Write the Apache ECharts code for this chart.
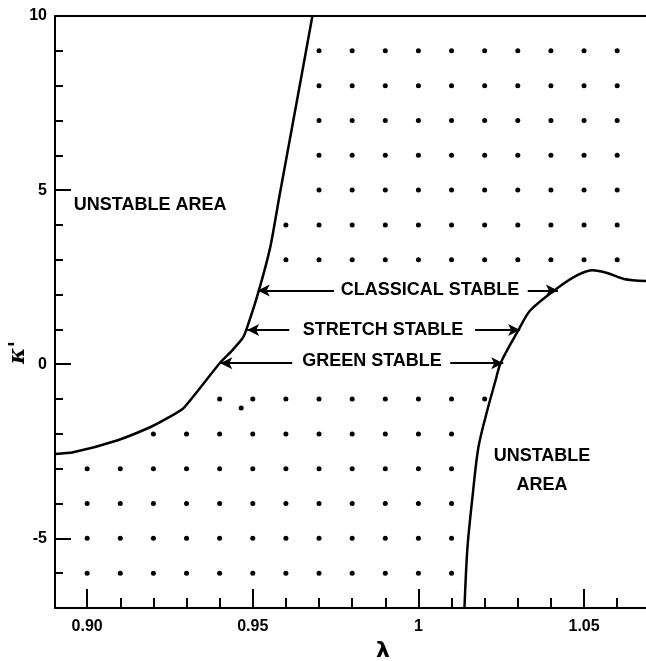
<!DOCTYPE html>
<html>
<head>
<meta charset="utf-8">
<script src="https://cdn.jsdelivr.net/npm/echarts@6/dist/echarts.min.js"></script>
<style>html,body{margin:0;padding:0;background:#fff;}#c{width:646px;height:661px;}</style>
</head>
<body>
<div id="c"></div>
<script>
// ---- data ----
const xMin = 0.8903, xMax = 1.0687, yMin = -7, yMax = 10;
const xMajorTicks = [0.90, 0.95, 1.00, 1.05];
const xTickLabels = ['0.90', '0.95', '1', '1.05'];
const xMinorTicks = [0.90,0.91,0.92,0.93,0.94,0.95,0.96,0.97,0.98,0.99,1.00,1.01,1.02,1.03,1.04,1.05,1.06];
const yMajorTicks = [-5, 0, 5, 10];
const yTickLabels = ['-5', '0', '5', '10'];
const yMinorTicks = [-6,-5,-4,-3,-2,-1,0,1,2,3,4,5,6,7,8,9];

// left stability boundary
const leftCurveX = [0.8903, 0.8958, 0.909, 0.919, 0.9242, 0.929, 0.940, 0.9438, 0.947, 0.9483, 0.9517, 0.9553, 0.958, 0.9634, 0.968];
const leftCurveY = [-2.58, -2.53, -2.19, -1.81, -1.55, -1.27, 0.03, 0.40, 0.76, 1.06, 2.07, 3.37, 4.8, 7.6, 10];
// right stability boundary
const rightCurveX = [1.0139, 1.0148, 1.0163, 1.0181, 1.0208, 1.0233, 1.0248, 1.0302, 1.0338, 1.042, 1.048, 1.0526, 1.057, 1.062, 1.0687];
const rightCurveY = [-7.0, -5.27, -3.83, -2.39, -1.32, -0.46, 0.03, 0.98, 1.55, 2.19, 2.56, 2.70, 2.62, 2.45, 2.39];

// dotted (stable) region: rows and their first/last dot column
const dotColumns = [0.90,0.91,0.92,0.93,0.94,0.95,0.96,0.97,0.98,0.99,1.00,1.01,1.02,1.03,1.04,1.05,1.06];
const dotRowY    = [9, 8, 7, 6, 5, 4, 3, -1, -2, -3, -4, -5, -6];
const dotRowFrom = [0.97,0.97,0.97,0.97,0.97,0.96,0.96,0.94,0.92,0.90,0.90,0.90,0.90];
const dotRowTo   = [1.06,1.06,1.06,1.06,1.06,1.06,1.06,1.02,1.01,1.01,1.01,1.01,1.01];
const strayDotX = [0.9465];
const strayDotY = [-1.26];

// arrow annotations: y, left tip, left line end, right line start, right tip
const arrowNames   = ['CLASSICAL STABLE', 'STRETCH STABLE', 'GREEN STABLE'];
const arrowY       = [2.12, 0.98, 0.03];
const arrowLeftTip = [0.9515, 0.9483, 0.9402];
const arrowLeftEnd = [0.9745, 0.9610, 0.9619];
const arrowRightStart = [1.0330, 1.0171, 1.0096];
const arrowRightTip   = [1.0421, 1.0307, 1.0256];
const arrowTextX = [1.0035, 0.9893, 0.9860];
const arrowTextY = [2.13, 0.98, 0.09];

const areaLabels = ['UNSTABLE AREA', 'UNSTABLE\nAREA'];
const areaLabelX = [0.9190, 1.0373];
const areaLabelY = [4.58, -3.06];

// ---- build ----
const zip = (a, b) => a.map((v, i) => [v, b[i]]);
const dots = [];
dotRowY.forEach((y, r) => {
  dotColumns.forEach(x => {
    if (x >= dotRowFrom[r] - 1e-9 && x <= dotRowTo[r] + 1e-9) dots.push([x, y]);
  });
});
strayDotX.forEach((x, i) => dots.push([x, strayDotY[i]]));

const markLines = [];
arrowY.forEach((y, i) => {
  markLines.push([{coord: [arrowLeftEnd[i], y], symbol: 'none'}, {coord: [arrowLeftTip[i], y], symbol: 'arrow'}]);
  markLines.push([{coord: [arrowRightStart[i], y], symbol: 'none'}, {coord: [arrowRightTip[i], y], symbol: 'arrow'}]);
});

const texts = arrowNames.map((n, i) => ({value: [arrowTextX[i], arrowTextY[i]], name: n}))
  .concat(areaLabels.map((n, i) => ({value: [areaLabelX[i], areaLabelY[i]], name: n})));

const black = '#000';
const font = 'Liberation Sans';
const chart = echarts.init(document.getElementById('c'), null, {renderer: 'canvas'});
chart.setOption({
  animation: false,
  backgroundColor: '#fff',
  grid: [
    {left: 55, right: 0, top: 16, bottom: 53},
    {left: 55, right: 0, top: 598, bottom: 53}
  ],
  xAxis: [
    {type: 'value', gridIndex: 0, min: xMin, max: xMax, position: 'bottom',
     axisLine: {show: true, onZero: false, lineStyle: {color: black, width: 2}},
     axisTick: {show: true, inside: true, length: 19, customValues: xMajorTicks, lineStyle: {color: black, width: 2}},
     axisLabel: {show: true, customValues: xMajorTicks, margin: 11, color: black, fontSize: 16, fontWeight: 'bold', fontFamily: font,
       formatter: v => { const k = xMajorTicks.findIndex(t => Math.abs(t - v) < 1e-6); return k >= 0 ? xTickLabels[k] : ''; }},
     splitLine: {show: false}},
    {type: 'value', gridIndex: 0, min: xMin, max: xMax, position: 'top',
     axisLine: {show: true, onZero: false, lineStyle: {color: black, width: 2}},
     axisTick: {show: false}, axisLabel: {show: false}, splitLine: {show: false}},
    {type: 'value', gridIndex: 1, min: xMin, max: xMax, position: 'top',
     axisLine: {show: false, onZero: false},
     axisTick: {show: true, inside: true, length: 10, customValues: xMinorTicks, lineStyle: {color: black, width: 2}},
     axisLabel: {show: false}, splitLine: {show: false}}
  ],
  yAxis: [
    {type: 'value', gridIndex: 0, min: yMin, max: yMax, position: 'left',
     axisLine: {show: true, onZero: false, lineStyle: {color: black, width: 2}},
     axisTick: {show: true, inside: true, length: 16, customValues: yMajorTicks, lineStyle: {color: black, width: 2}},
     axisLabel: {show: true, customValues: yMajorTicks, margin: 8, color: black, fontSize: 16, fontWeight: 'bold', fontFamily: font,
       formatter: v => { const k = yMajorTicks.findIndex(t => Math.abs(t - v) < 1e-6); return k >= 0 ? yTickLabels[k] : ''; }},
     splitLine: {show: false}},
    {type: 'value', gridIndex: 0, min: yMin, max: yMax, position: 'left', offset: 0,
     axisLine: {show: false, onZero: false},
     axisTick: {show: true, inside: true, length: 8, customValues: yMinorTicks, lineStyle: {color: black, width: 2}},
     axisLabel: {show: false}, splitLine: {show: false}},
    {type: 'value', gridIndex: 1, min: 0, max: 1, position: 'left', show: false}
  ],
  series: [
    {type: 'line', name: 'left boundary', data: zip(leftCurveX, leftCurveY), smooth: 0.2, symbol: 'none',
     lineStyle: {color: black, width: 2.5}, z: 3},
    {type: 'line', name: 'right boundary', data: zip(rightCurveX, rightCurveY), smooth: 0.3, symbol: 'none',
     lineStyle: {color: black, width: 2.5}, z: 3},
    {type: 'scatter', name: 'stable region', data: dots, symbol: 'circle', symbolSize: 5,
     itemStyle: {color: black, opacity: 1}, silent: true},
    {type: 'line', name: 'arrows', data: [], symbol: 'none',
     markLine: {silent: true, animation: false, symbolSize: [9, 12], label: {show: false},
       lineStyle: {color: black, width: 2, type: 'solid', opacity: 1}, data: markLines}},
    {type: 'scatter', name: 'labels', data: texts, symbolSize: 0, silent: true,
     itemStyle: {opacity: 1},
     label: {show: true, position: 'inside', formatter: p => p.name, color: black, opacity: 1, fontSize: 18,
       fontWeight: 'bold', fontFamily: font, align: 'center', verticalAlign: 'middle', lineHeight: 29}},
    {type: 'line', name: 'minor tick holder', xAxisIndex: 2, yAxisIndex: 2, data: [], symbol: 'none'}
  ],
  graphic: [
    {type: 'text', left: 376, top: 640, style: {text: 'λ', fontSize: 22, fontWeight: 'bold', fontFamily: 'DejaVu Sans', fill: black}},
    {type: 'text', x: 7, y: 364, rotation: Math.PI / 2, style: {text: "κ'", fontSize: 22, fontStyle: 'italic', fontWeight: 'bold', fontFamily: 'DejaVu Serif', fill: black}}
  ]
});
</script>
</body>
</html>
